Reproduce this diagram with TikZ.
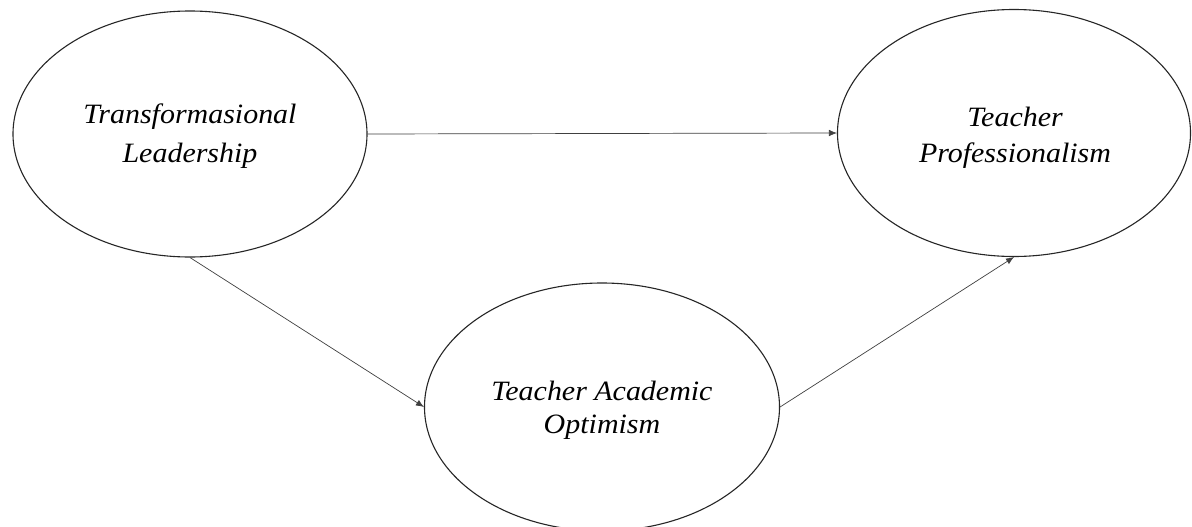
\documentclass[tikz,border=0pt]{standalone}
\usepackage{fontspec}
\setmainfont{Liberation Serif}
\newfontfamily\labfont[FakeStretch=1.07]{Liberation Serif}
\usetikzlibrary{shapes.geometric,arrows.meta}
\begin{document}
\begin{tikzpicture}[x=1pt,y=-1pt,
  latent/.style={ellipse,draw=black!85,line width=1.1pt,inner sep=0pt},
  lab/.style={anchor=base,inner sep=0pt,font=\labfont\fontsize{28}{34}\selectfont\itshape},
  path/.style={draw=black!75,line width=0.7pt,-{Latex[length=8pt,width=6.5pt]}}]
\clip (0,0) rectangle (1192,527);
\fill[white] (0,0) rectangle (1192,527);
\node[latent,minimum width=354pt,minimum height=246pt] (tl) at (190,134) {};
\node[latent,minimum width=353pt,minimum height=247pt] (tp) at (1014,133) {};
\node[latent,minimum width=355pt,minimum height=248pt] (tao) at (602,407) {};
\node[lab] (tl1) at (190,124) {Transformasional};
\node[lab] (tl2) at (190,162) {Leadership};
\node[lab] (tp1) at (1015,126) {Teacher};
\node[lab] (tp2) at (1015,162) {Professionalism};
\node[lab] (tao1) at (602,400) {Teacher Academic};
\node[lab] (tao2) at (602,433) {Optimism};
\draw[path] (tl.east) -- (tp.west);
\draw[path] (tl.south) -- (tao.west);
\draw[path] (tao.east) -- (tp.south);
\end{tikzpicture}
\end{document}
